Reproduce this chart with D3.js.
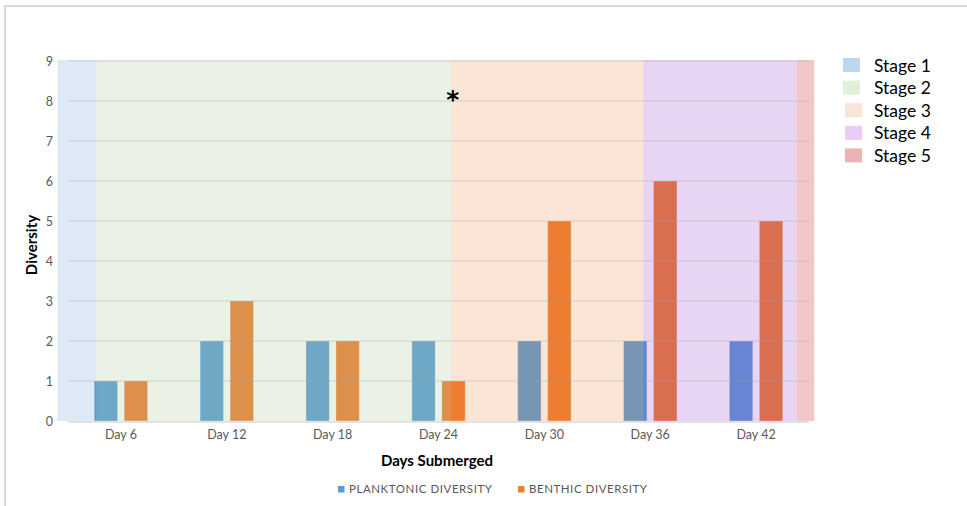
<!DOCTYPE html>
<html>
<head>
<meta charset="utf-8">
<script src="https://cdn.jsdelivr.net/npm/d3@7"></script>
<style>
  html, body { margin: 0; padding: 0; background: #fff; }
  svg { display: block; font-family: Lato, "Open Sans", sans-serif; }
</style>
</head>
<body>
<svg id="chart" width="967" height="506"></svg>
<script>
// Sampling days and diversity counts
const days = ["Day 6", "Day 12", "Day 18", "Day 24", "Day 30", "Day 36", "Day 42"];
const planktonic = [1, 2, 2, 2, 2, 2, 2];
const benthic = [1, 3, 2, 1, 5, 6, 5];
const seriesNames = ["PLANKTONIC DIVERSITY", "BENTHIC DIVERSITY"];
const yTicks = [0, 1, 2, 3, 4, 5, 6, 7, 8, 9];

// Succession stages, as spans along the day axis
const stageNames = ["Stage 1", "Stage 2", "Stage 3", "Stage 4", "Stage 5"];
const stageStartDay = [2.4, 4.6, 24.7, 35.6, 44.3];
const stageEndDay = [4.6, 24.7, 35.6, 44.3, 45.3];

// Styling
const seriesColors = ["#5B9BD5", "#ED7D31"];
const stageTint = ["#5B9BD5", "#ADCD9B", "#ED7D31", "#9338CC", "#C00000"];
const stageAlpha = [0.2, 0.25, 0.2, 0.21, 0.22];
const stageSwatch = ["#BDD7EE", "#E2EFDA", "#FBE3D6", "#EACCF8", "#EAB4B4"];

const svg = d3.select("#chart");

const plot = { left: 68, right: 809, top: 61, bottom: 421 };

const x0 = d3.scaleBand().domain(days).range([plot.left, plot.right]).padding(0);
const step = x0.step();
const x1 = d3.scaleBand().domain(seriesNames)
  .range([step / 2 - 26.7, step / 2 + 26.7]).paddingInner(0.22).paddingOuter(0);
// Continuous day axis underlying the categories (Day 6 centred in first band)
const xDay = d3.scaleLinear().domain([3, 45]).range([plot.left, plot.right]);
const y = d3.scaleLinear().domain([0, 9]).range([plot.bottom, plot.top]);

// Outer frame
svg.append("path")
  .attr("d", "M5,506 L5,6 L967,6")
  .attr("fill", "none").attr("stroke", "#d9d9d9").attr("stroke-width", 2);

// Bars
const rows = days.map((d, i) => ({ day: d, values: [planktonic[i], benthic[i]] }));
const groups = svg.append("g").selectAll("g").data(rows).join("g")
  .attr("transform", d => `translate(${x0(d.day)},0)`);
groups.selectAll("rect")
  .data(d => d.values.map((v, k) => ({ key: seriesNames[k], v, k })))
  .join("rect")
  .attr("x", d => x1(d.key))
  .attr("width", x1.bandwidth())
  .attr("y", d => y(d.v))
  .attr("height", d => y(0) - y(d.v))
  .attr("fill", d => seriesColors[d.k])
  .attr("stroke", "#ffffff").attr("stroke-opacity", 0.35).attr("stroke-width", 1);

// Stage shading laid across the plot
const stages = stageNames.map((n, i) => ({ n, i, s: stageStartDay[i], e: stageEndDay[i] }));
svg.append("g").selectAll("rect").data(stages).join("rect")
  .attr("x", d => xDay(d.s))
  .attr("width", d => xDay(d.e) - xDay(d.s))
  .attr("y", y(9) - 1)
  .attr("height", y(0) - y(9) + 1)
  .attr("fill", d => stageTint[d.i])
  .attr("fill-opacity", d => stageAlpha[d.i]);

// Horizontal gridlines
svg.append("g").selectAll("line").data(yTicks.filter(t => t > 0)).join("line")
  .attr("x1", plot.left).attr("x2", plot.right)
  .attr("y1", d => y(d)).attr("y2", d => y(d))
  .attr("stroke", "#a6a6a6").attr("stroke-opacity", 0.4).attr("stroke-width", 1.2);

// X axis line
svg.append("line")
  .attr("x1", plot.left).attr("x2", plot.right)
  .attr("y1", y(0) + 1).attr("y2", y(0) + 1)
  .attr("stroke", "#d9d9d9").attr("stroke-width", 1.5);

// Y axis labels
const yAxis = d3.axisLeft(y).tickValues(yTicks).tickSize(0).tickPadding(0).tickFormat(d3.format("d"));
const yg = svg.append("g").attr("transform", `translate(53,0)`).call(yAxis);
yg.select(".domain").remove();
yg.selectAll("text").attr("fill", "#595959").attr("font-size", 12.5).attr("font-family", "Lato, sans-serif");

// X axis labels
const xAxis = d3.axisBottom(x0).tickSize(0).tickPadding(0);
const xg = svg.append("g").attr("transform", `translate(0,${plot.bottom + 9})`).call(xAxis);
xg.select(".domain").remove();
xg.selectAll("text").attr("fill", "#595959").attr("font-size", 12.5).attr("font-family", "Lato, sans-serif");

// Axis titles
svg.append("text")
  .attr("x", 437).attr("y", 466)
  .attr("text-anchor", "middle")
  .attr("font-weight", "bold").attr("font-size", 15).attr("fill", "#000")
  .text("Days Submerged");

svg.append("text")
  .attr("transform", "translate(37,245) rotate(-90)")
  .attr("text-anchor", "middle")
  .attr("font-weight", "bold").attr("font-size", 15).attr("fill", "#000")
  .text("Diversity");

// Asterisk at the stage 2 / stage 3 transition
svg.append("text")
  .attr("x", xDay(stageStartDay[2]) + 2).attr("y", 108)
  .attr("text-anchor", "middle")
  .attr("font-family", "'DejaVu Sans', sans-serif")
  .attr("font-weight", "bold")
  .attr("font-size", 25).attr("fill", "#000")
  .text("*");

// Series legend (bottom)
const seriesLegend = [
  { name: seriesNames[0], color: seriesColors[0], x: 338, w: 143 },
  { name: seriesNames[1], color: seriesColors[1], x: 518, w: 118 }
];
const sl = svg.append("g").selectAll("g").data(seriesLegend).join("g")
  .attr("transform", d => `translate(${d.x},486)`);
sl.append("rect").attr("width", 6.5).attr("height", 6.5).attr("fill", d => d.color);
sl.append("text")
  .attr("x", 11).attr("y", 7)
  .attr("font-size", 11.5).attr("fill", "#595959")
  .attr("textLength", d => d.w).attr("lengthAdjust", "spacing")
  .text(d => d.name);

// Stage legend (right)
const stl = svg.append("g").selectAll("g").data(stages).join("g")
  .attr("transform", d => `translate(843,${58 + d.i * 22.6})`);
stl.append("rect")
  .attr("x", d => d.i < 2 ? 0 : 2)
  .attr("width", 17).attr("height", 14).attr("fill", d => stageSwatch[d.i]);
stl.append("text")
  .attr("x", 31).attr("y", 13.5)
  .attr("font-size", 17.5).attr("fill", "#000")
  .text(d => d.n);
</script>
</body>
</html>
